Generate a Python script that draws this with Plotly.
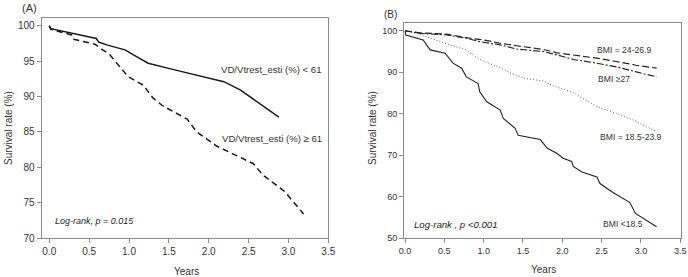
import plotly.graph_objects as go

W, H = 688, 277

# ---------- Panel A data ----------
a_low_t = [0, 0.02, 0.59, 0.62, 0.72, 0.95, 1.10, 1.24, 1.56, 2.19, 2.40, 2.88]
a_low_v = [100, 99.6, 98.2, 97.7, 97.3, 96.6, 95.6, 94.7, 93.8, 92.1, 90.9, 87.1]
a_high_t = [0, 0.02, 0.28, 0.30, 0.57, 0.76, 0.90, 0.99, 1.18, 1.30, 1.42, 1.73, 1.85, 2.10, 2.56, 2.68, 2.95, 3.19]
a_high_v = [100, 99.5, 98.7, 98.1, 97.4, 95.9, 94.0, 92.8, 91.6, 89.8, 88.7, 86.8, 85.0, 83.0, 80.5, 78.9, 76.6, 73.4]

# ---------- Panel B data ----------
b_u185_t = [0, 0.01, 0.23, 0.32, 0.51, 0.61, 0.72, 0.78, 0.93, 0.95, 1.04, 1.21, 1.25, 1.40, 1.44, 1.72,
            1.81, 1.93, 2.01, 2.12, 2.14, 2.25, 2.44, 2.48, 2.63, 2.86, 2.93, 3.20]
b_u185_v = [100, 99.0, 97.8, 95.4, 94.6, 92.2, 91.0, 88.9, 87.3, 85.3, 82.9, 80.9, 78.9, 76.5, 74.8, 73.8,
            71.7, 70.5, 69.3, 68.5, 67.3, 66.0, 64.8, 63.2, 61.2, 58.6, 56.0, 52.8]
b_norm_t = [0, 0.15, 0.36, 0.57, 0.78, 0.95, 1.21, 1.33, 1.53, 1.76, 1.89, 2.14, 2.44, 2.69, 2.90, 3.18]
b_norm_v = [100, 99.4, 98.0, 96.6, 95.4, 93.1, 91.1, 89.9, 88.5, 87.9, 86.7, 85.1, 81.7, 80.1, 78.5, 75.9]
b_over_t = [0, 0.19, 0.53, 0.66, 0.83, 1.00, 1.21, 1.42, 1.76, 1.93, 2.14, 2.44, 2.69, 2.94, 3.20]
b_over_v = [100, 99.5, 99.2, 98.7, 98.2, 97.8, 97.0, 96.4, 95.5, 94.7, 94.2, 93.4, 92.6, 91.7, 91.0]
b_obese_t = [0, 0.19, 0.53, 0.78, 0.95, 1.21, 1.42, 1.76, 1.93, 2.14, 2.44, 2.69, 2.94, 3.20]
b_obese_v = [100, 99.4, 99.0, 98.2, 97.4, 96.6, 95.6, 95.0, 94.2, 93.1, 92.2, 91.3, 90.1, 88.9]

x_ticks = [0, 0.5, 1.0, 1.5, 2.0, 2.5, 3.0, 3.5]
a_y_ticks = [70, 75, 80, 85, 90, 95, 100]
b_y_ticks = [50, 60, 70, 80, 90, 100]

FONT = "Liberation Sans, Arial, sans-serif"
TXT = "#333333"
FRAME = "#8a8a8a"


def px(x):
    return x / W


def py(y):
    return 1 - y / H


fig = go.Figure()

fig.add_trace(go.Scatter(x=a_low_t, y=a_low_v, mode="lines", xaxis="x", yaxis="y",
                         line=dict(color="#1a1a1a", width=1.5)))
fig.add_trace(go.Scatter(x=a_high_t, y=a_high_v, mode="lines", xaxis="x", yaxis="y",
                         line=dict(color="#1a1a1a", width=1.5, dash="6px,4px")))

fig.add_trace(go.Scatter(x=b_u185_t, y=b_u185_v, mode="lines", xaxis="x2", yaxis="y2",
                         line=dict(color="#222222", width=1.1)))
fig.add_trace(go.Scatter(x=b_norm_t, y=b_norm_v, mode="lines", xaxis="x2", yaxis="y2",
                         line=dict(color="#666666", width=1, dash="1px,2px")))
fig.add_trace(go.Scatter(x=b_over_t, y=b_over_v, mode="lines", xaxis="x2", yaxis="y2",
                         line=dict(color="#222222", width=1.2, dash="7px,3px")))
fig.add_trace(go.Scatter(x=b_obese_t, y=b_obese_v, mode="lines", xaxis="x2", yaxis="y2",
                         line=dict(color="#222222", width=1.1, dash="7px,2px,2px,2px")))

axis_common = dict(showline=True, linecolor=FRAME, linewidth=1, mirror=True,
                   ticks="outside", ticklen=4, tickcolor=FRAME, showgrid=False,
                   zeroline=False, fixedrange=True, automargin=False)

fig.update_layout(
    template="none",
    width=W, height=H,
    margin=dict(l=0, r=0, t=0, b=0, pad=0),
    paper_bgcolor="white", plot_bgcolor="white",
    showlegend=False,
    xaxis=dict(domain=[px(41.7), px(328.3)], range=[-0.095, 3.5], tickvals=x_ticks,
               tickformat=".1f", tickfont=dict(family=FONT, size=10, color=TXT), anchor="y",
               **axis_common),
    yaxis=dict(domain=[py(238), py(18)], range=[70, 101.1], tickvals=a_y_ticks,
               tickfont=dict(family=FONT, size=10, color=TXT), anchor="x", **axis_common),
    xaxis2=dict(domain=[px(404), px(681)], range=[-0.013, 3.51], tickvals=x_ticks,
                tickformat=".1f", tickfont=dict(family=FONT, size=9, color=TXT), anchor="y2",
                **axis_common),
    yaxis2=dict(domain=[py(238.3), py(22.5)], range=[50, 102], tickvals=b_y_ticks,
                tickfont=dict(family=FONT, size=9, color=TXT), anchor="x2", **axis_common),
)


def pann(text, x, y, size, angle=0):
    return dict(text=text, x=px(x), y=py(y), xref="paper", yref="paper",
                xanchor="center", yanchor="middle", textangle=angle,
                showarrow=False, font=dict(family=FONT, size=size, color=TXT))


def dann(text, x, y, xr, yr, anchor, size, color=TXT):
    return dict(text=text, x=x, y=y, xref=xr, yref=yr, xanchor=anchor, yanchor="middle",
                showarrow=False, font=dict(family=FONT, size=size, color=color))


ann = [
    pann("(A)", 29, 7.5, 11),
    pann("(B)", 390, 15, 10),
    pann("Years", 186, 271.5, 10),
    pann("Years", 543.5, 269.5, 10),
    pann("Survival rate (%)", 8, 128, 10, -90),
    pann("Survival rate (%)", 372, 128, 10, -90),
    dann("VD/Vtrest_esti (%) < 61", 3.44, 93.75, "x", "y", "right", 9.6),
    dann("VD/Vtrest_esti (%) ≥ 61", 3.45, 84.0, "x", "y", "right", 9.6),
    dann("<i>Log-rank, p = 0.015</i>", 0.047, 72.4, "x", "y", "left", 9, "#222222"),
    dann("BMI = 24-26.9", 2.415, 95.4, "x2", "y2", "left", 8.6),
    dann("BMI ≥27", 2.43, 88.3, "x2", "y2", "left", 8.6),
    dann("BMI = 18.5-23.9", 2.45, 74.3, "x2", "y2", "left", 8.6),
    dann("BMI <18.5", 2.49, 53.4, "x2", "y2", "left", 8.6),
    dann("<i>Log-rank , p <0.001</i>", 0.093, 53.4, "x2", "y2", "left", 9.6, "#222222"),
]

fig.update_layout(annotations=ann)

fig.write_html(
    "out.html",
    config={"displayModeBar": False},
    post_script="document.body.style.margin='0';document.body.style.padding='0';"
                "document.body.style.overflow='hidden';",
)
